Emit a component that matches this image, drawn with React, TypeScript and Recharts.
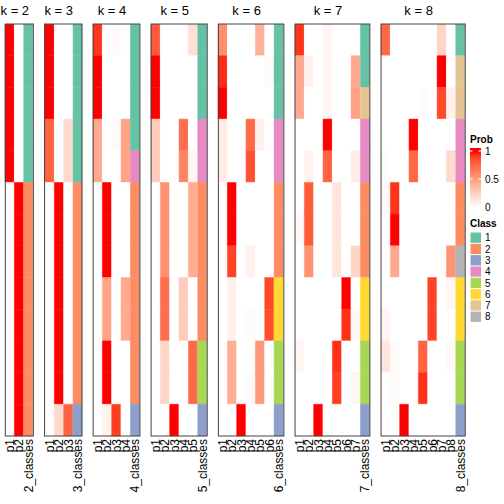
import React from 'react';
import { BarChart, Bar, XAxis, YAxis, Cell } from 'recharts';

// membership probabilities, one row per sample group (13 rows), one column per class
const PROB_K2 = [
  [1, 0], [1, 0], [1, 0], [1, 0], [1, 0],
  [0, 1], [0, 1], [0, 1], [0, 1], [0, 1], [0, 1], [0, 1], [0, 1],
];
const CLASS_K2 = [1, 1, 1, 1, 1, 2, 2, 2, 2, 2, 2, 2, 2];

const PROB_K3 = [
  [1, 0, 0], [1, 0, 0], [1, 0, 0],
  [0.77, 0, 0.2], [0.77, 0, 0.2],
  [0, 1, 0], [0, 1, 0], [0, 1, 0], [0, 1, 0], [0, 1, 0], [0, 1, 0], [0, 1, 0],
  [0, 0.2, 0.77],
];
const CLASS_K3 = [1, 1, 1, 1, 1, 2, 2, 2, 2, 2, 2, 2, 3];

const PROB_K4 = [
  [0.92, 0, 0.03, 0],
  [1, 0, 0, 0],
  [1, 0, 0, 0],
  [0.44, 0, 0.03, 0.48],
  [0.44, 0, 0, 0.48],
  [0, 1, 0, 0], [0, 1, 0, 0], [0, 1, 0, 0],
  [0, 0.47, 0, 0.44], [0, 0.47, 0, 0.44],
  [0, 1, 0, 0], [0, 1, 0, 0],
  [0, 0.07, 0.9, 0],
];
const CLASS_K4 = [1, 1, 1, 1, 4, 2, 2, 2, 2, 2, 2, 2, 3];

const PROB_K5 = [
  [0.8, 0, 0, 0, 0.16],
  [1, 0, 0, 0, 0],
  [1, 0, 0, 0, 0],
  [0.27, 0, 0, 0.72, 0],
  [0.27, 0, 0, 0.62, 0.05],
  [0, 0.56, 0, 0, 0.43], [0, 0.56, 0, 0, 0.43], [0, 0.56, 0, 0, 0.43],
  [0, 0.72, 0, 0.27, 0], [0, 0.72, 0, 0.27, 0],
  [0, 0.22, 0, 0, 0.74], [0, 0.22, 0, 0, 0.74],
  [0, 0, 1, 0, 0],
];
const CLASS_K5 = [1, 1, 1, 4, 4, 2, 2, 2, 2, 2, 5, 5, 3];

const PROB_K6 = [
  [0.58, 0, 0, 0, 0.4, 0],
  [0.95, 0, 0, 0, 0, 0.02],
  [1, 0, 0, 0, 0, 0],
  [0.1, 0, 0, 0.74, 0.07, 0],
  [0.1, 0, 0, 0.84, 0, 0],
  [0, 1, 0, 0, 0, 0],
  [0, 1, 0, 0, 0, 0],
  [0, 0.88, 0, 0.07, 0, 0],
  [0, 0.07, 0, 0, 0, 0.87],
  [0, 0.07, 0, 0.02, 0, 0.85],
  [0, 0.42, 0, 0, 0.53, 0],
  [0, 0.42, 0, 0.02, 0.53, 0],
  [0, 0, 1, 0, 0, 0],
];
const CLASS_K6 = [1, 1, 1, 4, 4, 2, 2, 2, 6, 6, 5, 5, 3];

const PROB_K7 = [
  [0.92, 0, 0, 0.05, 0, 0, 0],
  [0.44, 0.07, 0, 0.05, 0, 0, 0.44],
  [0.44, 0, 0, 0.05, 0, 0, 0.48],
  [0, 0, 0, 1, 0, 0, 0],
  [0, 0.07, 0, 0.77, 0, 0, 0.1],
  [0, 0.8, 0, 0, 0.14, 0, 0],
  [0.03, 0.8, 0, 0, 0.14, 0, 0],
  [0, 0.55, 0, 0, 0.14, 0, 0.22],
  [0, 0, 0, 0, 0, 1, 0],
  [0, 0, 0, 0, 0, 0.93, 0.04],
  [0.05, 0, 0, 0, 0.93, 0, 0],
  [0, 0, 0, 0, 0.9, 0, 0.05],
  [0, 0, 1, 0, 0, 0, 0],
];
const CLASS_K7 = [1, 1, 7, 4, 4, 2, 2, 2, 6, 6, 5, 5, 3];

const PROB_K8 = [
  [0.75, 0, 0, 0, 0, 0, 0.22, 0],
  [0, 0, 0, 0, 0, 0, 1, 0],
  [0, 0, 0, 0, 0.02, 0, 0.86, 0.07],
  [0, 0, 0, 1, 0, 0, 0, 0],
  [0.02, 0, 0, 0.75, 0, 0, 0, 0.2],
  [0.03, 0.92, 0, 0, 0, 0, 0, 0],
  [0, 1, 0, 0, 0, 0, 0, 0],
  [0, 0.44, 0, 0, 0, 0, 0, 0.55],
  [0, 0, 0, 0, 0, 0.88, 0, 0.05],
  [0.05, 0, 0, 0, 0, 0.88, 0, 0],
  [0.13, 0.02, 0, 0, 0.77, 0, 0, 0.03],
  [0, 0.02, 0, 0, 0.93, 0, 0, 0],
  [0, 0, 1, 0, 0, 0, 0, 0],
];
const CLASS_K8 = [1, 7, 7, 4, 4, 2, 2, 8, 6, 6, 5, 5, 3];

const PANELS = [
  { k: 2, probs: PROB_K2, classes: CLASS_K2 },
  { k: 3, probs: PROB_K3, classes: CLASS_K3 },
  { k: 4, probs: PROB_K4, classes: CLASS_K4 },
  { k: 5, probs: PROB_K5, classes: CLASS_K5 },
  { k: 6, probs: PROB_K6, classes: CLASS_K6 },
  { k: 7, probs: PROB_K7, classes: CLASS_K7 },
  { k: 8, probs: PROB_K8, classes: CLASS_K8 },
];

const CLASS_COLORS = ['#66C2A5', '#FC8D62', '#8DA0CB', '#E78AC3', '#A6D854', '#FFD92F', '#E5C494', '#B3B3B3'];
const CLASS_LABELS = ['1', '2', '3', '4', '5', '6', '7', '8'];
const PROB_TICKS = [1, 0.5, 0];

const N_ROWS = 13;
const TOP = 24;
const BODY_H = 412;
const COL_W = 9.35;
const GAP = 11.2;
const LEFT0 = 5.3;
const PAD = 6;
const FONT = '"Liberation Sans", Arial, sans-serif';

// white -> red, interpolated in LAB like colorRamp2
const RED_LAB = [53.2408, 80.0925, 67.2032];
function probColor(p: number) {
  const L = 100 + (RED_LAB[0] - 100) * p;
  const a = RED_LAB[1] * p;
  const b = RED_LAB[2] * p;
  const fy = (L + 16) / 116;
  const fx = fy + a / 500;
  const fz = fy - b / 200;
  const f = (t: number) => (t ** 3 > 0.008856 ? t ** 3 : (t - 16 / 116) / 7.787);
  const X = 0.95047 * f(fx);
  const Y = f(fy);
  const Z = 1.08883 * f(fz);
  const lin = [
    3.2406 * X - 1.5372 * Y - 0.4986 * Z,
    -0.9689 * X + 1.8758 * Y + 0.0415 * Z,
    0.0557 * X - 0.204 * Y + 1.057 * Z,
  ];
  return (
    '#' +
    lin
      .map((v) => {
        const c = Math.min(1, Math.max(0, v));
        const s = c <= 0.0031308 ? 12.92 * c : 1.055 * c ** (1 / 2.4) - 0.055;
        return Math.round(s * 255).toString(16).padStart(2, '0');
      })
      .join('')
  );
}

const panelLeft = (i: number) => {
  let x = LEFT0;
  for (let j = 0; j < i; j++) x += (PANELS[j].k + 1) * COL_W + GAP;
  return x;
};

const RotTick = (props: any) => {
  const { x, payload } = props;
  return (
    <text
      transform={`translate(${x},${BODY_H + 3}) rotate(-90)`}
      textAnchor="end"
      dy="0.36em"
      fontSize={12}
      fontFamily={FONT}
      fill="#000"
    >
      {payload.value}
    </text>
  );
};

function Panel({ k, probs, classes, left }: { k: number; probs: number[][]; classes: number[]; left: number }) {
  const width = (k + 1) * COL_W;
  const names = [...Array.from({ length: k }, (_, i) => `p${i + 1}`), `${k}_classes`];
  const data = names.map((name) => {
    const d: Record<string, any> = { name };
    for (let r = 0; r < N_ROWS; r++) d[`r${r}`] = 1;
    return d;
  });
  const rows = Array.from({ length: N_ROWS }, (_, r) => r);
  return (
    <div style={{ position: 'absolute', left: left - PAD, top: TOP }}>
      <BarChart
        width={width + 2 * PAD}
        height={BODY_H + 70}
        data={data}
        margin={{ top: 0, right: PAD, bottom: 0, left: PAD }}
        barCategoryGap={0}
        barGap={0}
      >
        <XAxis dataKey="name" interval={0} tickLine={false} axisLine={false} height={70} tick={<RotTick />} />
        <YAxis hide width={0} type="number" domain={[0, N_ROWS]} reversed />
        {rows.map((r) => (
          <Bar key={r} dataKey={`r${r}`} stackId="s" isAnimationActive={false}>
            {names.map((n, j) => {
              const fill = j < k ? probColor(probs[r][j]) : CLASS_COLORS[classes[r] - 1];
              return <Cell key={n} fill={fill} stroke={fill} strokeWidth={0.5} />;
            })}
          </Bar>
        ))}
      </BarChart>
    </div>
  );
}

export default function App() {
  const gradStops = Array.from({ length: 11 }, (_, i) => i / 10);
  return (
    <div style={{ position: 'absolute', left: 0, top: 0, width: 504, height: 504, background: '#fff' }}>
      {PANELS.map((p, i) => (
        <Panel key={p.k} k={p.k} probs={p.probs} classes={p.classes} left={panelLeft(i)} />
      ))}
      <svg width={504} height={504} style={{ position: 'absolute', left: 0, top: 0, pointerEvents: 'none' }}>
        <defs>
          <linearGradient id="probGrad" x1="0" y1="0" x2="0" y2="1">
            <stop offset="0" stopColor={probColor(1)} />
            {gradStops.map((s) => (
              <stop key={s} offset={0.05 + s * 0.9} stopColor={probColor(1 - s)} />
            ))}
            <stop offset="1" stopColor="#ffffff" />
          </linearGradient>
        </defs>
        {PANELS.map((p, i) => {
          const x = panelLeft(i);
          const w = (p.k + 1) * COL_W;
          return (
            <g key={p.k}>
              <rect x={x} y={TOP} width={w} height={BODY_H} fill="none" stroke="#444" strokeWidth={1} />
              <text x={x + w / 2 - 4.5} y={15} textAnchor="middle" fontSize={13} fontFamily={FONT} fill="#000">
                {`k = ${p.k}`}
              </text>
            </g>
          );
        })}
        <text x={470} y={143} fontSize={10} fontWeight="bold" fontFamily={FONT} fill="#000">
          Prob
        </text>
        <rect x={470} y={148} width={11} height={62} fill="url(#probGrad)" />
        {PROB_TICKS.map((t) => {
          const y = 151 + (1 - t) * 56;
          return (
            <g key={t}>
              <line x1={470} x2={472.5} y1={y} y2={y} stroke="#fff" strokeWidth={1} />
              <line x1={478.5} x2={481} y1={y} y2={y} stroke="#fff" strokeWidth={1} />
              <text x={485} y={y} dy="0.35em" fontSize={10} fontFamily={FONT} fill="#000">
                {String(t)}
              </text>
            </g>
          );
        })}
        <text x={470} y={227} fontSize={10} fontWeight="bold" fontFamily={FONT} fill="#000">
          Class
        </text>
        {CLASS_LABELS.map((lab, i) => {
          const y = 232 + i * 11.3;
          return (
            <g key={lab}>
              <rect x={470.5} y={y + 0.5} width={10.5} height={10.3} fill={CLASS_COLORS[i]} />
              <text x={485} y={y + 5.8} dy="0.35em" fontSize={10} fontFamily={FONT} fill="#000">
                {lab}
              </text>
            </g>
          );
        })}
      </svg>
    </div>
  );
}
